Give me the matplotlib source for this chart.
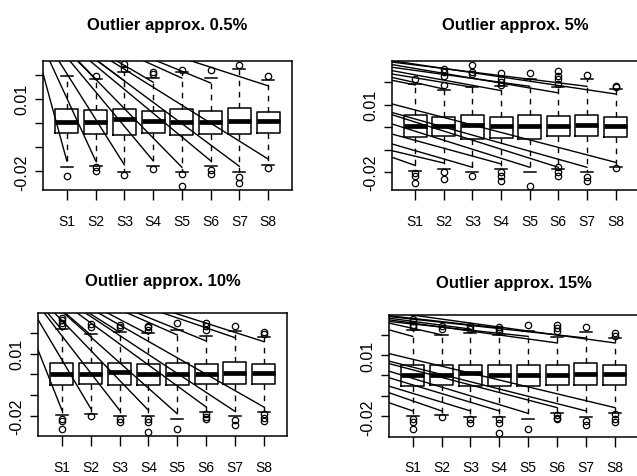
import matplotlib
matplotlib.use("Agg")
import matplotlib.pyplot as plt
from matplotlib import font_manager

# --- nomes e titulos ---
labels = ["S1", "S2", "S3", "S4", "S5", "S6", "S7", "S8"]
titles = ["Outlier approx. 0.5%", "Outlier approx. 5%",
          "Outlier approx. 10%", "Outlier approx. 15%"]
yticks = [-0.02, -0.01, 0.0, 0.01, 0.02]
ytick_labels = ["-0.02", "", "", "0.01", ""]

# --- caixas: 0.5% ---
lo_a = [-0.0183, -0.0177, -0.0201, -0.0177, -0.0204, -0.0177, -0.0201, -0.0172]
q1_a = [-0.0043, -0.0046, -0.0050, -0.0043, -0.0050, -0.0046, -0.0046, -0.0043]
med_a = [0.0003, 0.0003, 0.0017, 0.0010, 0.0003, 0.0003, 0.0010, 0.0007]
q3_a = [0.0058, 0.0054, 0.0058, 0.0048, 0.0058, 0.0051, 0.0062, 0.0047]
hi_a = [0.0196, 0.0182, 0.0210, 0.0186, 0.0210, 0.0186, 0.0224, 0.0178]
out_a = [[-0.0218], [0.0193, -0.0183, -0.0197], [0.0224, 0.0244, -0.0214],
         [0.0203, 0.0212, -0.0190], [0.0220, -0.0211, -0.0262],
         [0.0221, -0.0193, -0.0211], [0.0240, -0.0225, -0.0246],
         [0.0193, -0.0186]]

# --- caixas: 5% ---
lo_b = [-0.0196, -0.0185, -0.0200, -0.0185, -0.0200, -0.0185, -0.0200, -0.0178]
q1_b = [-0.0044, -0.0041, -0.0052, -0.0047, -0.0052, -0.0037, -0.0041, -0.0044]
med_b = [0.0004, 0.0004, 0.0010, 0.0004, 0.0004, 0.0004, 0.0010, 0.0004]
q3_b = [0.0056, 0.0046, 0.0056, 0.0046, 0.0056, 0.0049, 0.0056, 0.0046]
hi_b = [0.0193, 0.0167, 0.0178, 0.0182, 0.0215, 0.0181, 0.0215, 0.0170]
out_b = [[0.0215, -0.0203, -0.0215, -0.0249],
         [0.0190, 0.0227, 0.0244, 0.0259, -0.0197, -0.0230],
         [0.0237, 0.0244, 0.0279, -0.0215],
         [0.0188, 0.0203, 0.0215, 0.0241, -0.0197, -0.0215, -0.0237],
         [0.0241, -0.0262],
         [0.0193, 0.0215, 0.0230, 0.0249, -0.0178, -0.0200, -0.0215],
         [0.0233, -0.0222, -0.0241],
         [0.0178, 0.0182, -0.0182]]

# --- caixas: 10% e 15% (mesma amostra) ---
lo_c = [-0.0198, -0.0193, -0.0202, -0.0202, -0.0214, -0.0181, -0.0202, -0.0181]
q1_c = [-0.0052, -0.0047, -0.0052, -0.0052, -0.0052, -0.0047, -0.0047, -0.0047]
med_c = [0.0002, 0.0002, 0.0013, 0.0002, 0.0002, 0.0002, 0.0005, 0.0005]
q3_c = [0.0053, 0.0053, 0.0053, 0.0049, 0.0053, 0.0049, 0.0062, 0.0049]
hi_c = [0.0220, 0.0196, 0.0207, 0.0199, 0.0215, 0.0186, 0.0211, 0.0183]
out_c = [[0.0236, 0.0248, 0.0264, 0.0275, -0.0214, -0.0227, -0.0262],
         [0.0227, 0.0243, -0.0201],
         [0.0227, 0.0240, -0.0214, -0.0230],
         [0.0215, 0.0227, 0.0236, -0.0214, -0.0230, -0.0279],
         [0.0248, -0.0262],
         [0.0215, 0.0232, 0.0248, -0.0193, -0.0206, -0.0214],
         [0.0235, -0.0222, -0.0243],
         [0.0194, 0.0207, -0.0190, -0.0211, -0.0227]]

# --- segmentos: ponto de partida (x0, y0) ate a serie / valor final ---
seg_x0_a = [-0.46] * 15
seg_y0_a = [0.048] * 15
seg_end_a = [2, 3, 4, 5, 6, 8, 1, 2, 3, 4, 5, 6, 7, 8, 2]
seg_y1_a = [0.0182, 0.0175, 0.0169, 0.0186, 0.0166, 0.0154,
            -0.0157, -0.0156, -0.0173, -0.0156, -0.0183, -0.0156, -0.0179, -0.0149,
            0.0182]

seg_x0_b = [0.18] * 16
seg_y0_b = [0.0209, 0.0222, 0.0237, 0.0252, 0.0267, 0.0279, 0.0290, 0.0296,
            -0.0133, -0.0104, -0.0074, -0.0030, 0.0015, 0.0056, 0.0066, 0.0104]
seg_end_b = [1, 2, 3, 4, 5, 6, 7, 8, 1, 2, 3, 4, 5, 6, 7, 8]
seg_y1_b = [0.0188, 0.0170, 0.0178, 0.0163, 0.0182, 0.0153, 0.0182, 0.0148,
            -0.0170, -0.0159, -0.0178, -0.0163, -0.0178, -0.0178, -0.0178, -0.0156]

seg_x0_c = [-1.10] * 16
seg_y0_c = [0.0564] * 16
seg_end_c = [1, 2, 3, 4, 5, 6, 7, 8, 1, 2, 3, 4, 5, 6, 7, 8]
seg_y1_c = [0.0215, 0.0191, 0.0204, 0.0194, 0.0191, 0.0162, 0.0178, 0.0159,
            -0.0173, -0.0165, -0.0173, -0.0173, -0.0190, -0.0157, -0.0178, -0.0157]

seg_x0_d = [0.18] * 16
seg_y0_d = [0.0223, 0.0256, 0.0280, 0.0292, 0.0264, 0.0272, 0.0288, 0.0311,
            -0.0133, -0.0084, -0.0052, -0.0011, 0.0021, 0.0058, 0.0070, 0.0107]
seg_end_d = [1, 2, 3, 4, 5, 6, 7, 8, 1, 2, 3, 4, 5, 6, 7, 8]
seg_y1_d = [0.0191, 0.0199, 0.0227, 0.0232, 0.0191, 0.0159, 0.0183, 0.0159,
            -0.0173, -0.0173, -0.0173, -0.0173, -0.0185, -0.0157, -0.0173, -0.0157]

# --- fontes ---
W, H = 637, 477
names = {f.name for f in font_manager.fontManager.ttflist}
narrow = "Liberation Sans Narrow" in names
title_font = "Liberation Sans Narrow" if narrow else "Liberation Sans"
xlab_font = title_font
title_size = 13.5 if narrow else 12
xlab_size = 11 if narrow else 10

fig = plt.figure(figsize=(W / 100, H / 100), dpi=100)


def add_ax(left, top, right, bottom):
    # caixa do painel em pixels da figura
    return fig.add_axes([left / W, 1 - bottom / H, (right - left) / W, (bottom - top) / H])


def painel(ax, lo, q1, med, q3, hi, out, x0, y0, end, y1, ylim, title, pad):
    stats = [dict(whislo=l, q1=a, med=m, q3=b, whishi=h, fliers=f)
             for l, a, m, b, h, f in zip(lo, q1, med, q3, hi, out)]
    pos = list(range(1, len(labels) + 1))
    ax.bxp(stats, positions=pos, widths=0.8, capwidths=0.42, manage_ticks=False,
           boxprops=dict(color="black", lw=1.1),
           medianprops=dict(color="black", lw=3.4, solid_capstyle="butt"),
           whiskerprops=dict(color="black", lw=1.0, linestyle=(0, (4, 4))),
           capprops=dict(color="black", lw=1.1),
           flierprops=dict(marker="o", markerfacecolor="none", markeredgecolor="black",
                           markersize=4.6, markeredgewidth=0.9))
    for xa, ya, e, yb in zip(x0, y0, end, y1):
        ax.plot([xa, e], [ya, yb], color="black", lw=1.0)
    ax.set_xlim(0.18, 8.82)
    ax.set_ylim(*ylim)
    ax.set_xticks(pos)
    ax.set_xticklabels(labels, fontsize=xlab_size, family=xlab_font)
    ax.set_yticks(yticks)
    ax.set_yticklabels(ytick_labels, fontsize=11.5, family="Liberation Sans",
                       rotation=90, va="center")
    ax.tick_params(axis="x", direction="out", length=7, width=1, pad=10)
    ax.tick_params(axis="y", direction="out", length=6, width=1, pad=4)
    for s in ax.spines.values():
        s.set_linewidth(1.1)
    ax.set_title(title, fontsize=title_size, fontweight="bold", family=title_font, pad=pad)


ax1 = add_ax(43.3, 61.7, 291.7, 191)
ax2 = add_ax(391.8, 61.7, 639, 191)
ax3 = add_ax(38.3, 314, 287.3, 437.3)
ax4 = add_ax(389, 315.7, 638.5, 437.7)

painel(ax1, lo_a, q1_a, med_a, q3_a, hi_a, out_a,
       seg_x0_a, seg_y0_a, seg_end_a, seg_y1_a, (-0.0277, 0.0258), titles[0], 23)
painel(ax2, lo_b, q1_b, med_b, q3_b, hi_b, out_b,
       seg_x0_b, seg_y0_b, seg_end_b, seg_y1_b, (-0.0279, 0.0296), titles[1], 23)
painel(ax3, lo_c, q1_c, med_c, q3_c, hi_c, out_c,
       seg_x0_c, seg_y0_c, seg_end_c, seg_y1_c, (-0.0299, 0.0297), titles[2], 20)
painel(ax4, lo_c, q1_c, med_c, q3_c, hi_c, out_c,
       seg_x0_d, seg_y0_d, seg_end_d, seg_y1_d, (-0.0299, 0.0297), titles[3], 20)

fig.savefig("out.png", dpi=100)
